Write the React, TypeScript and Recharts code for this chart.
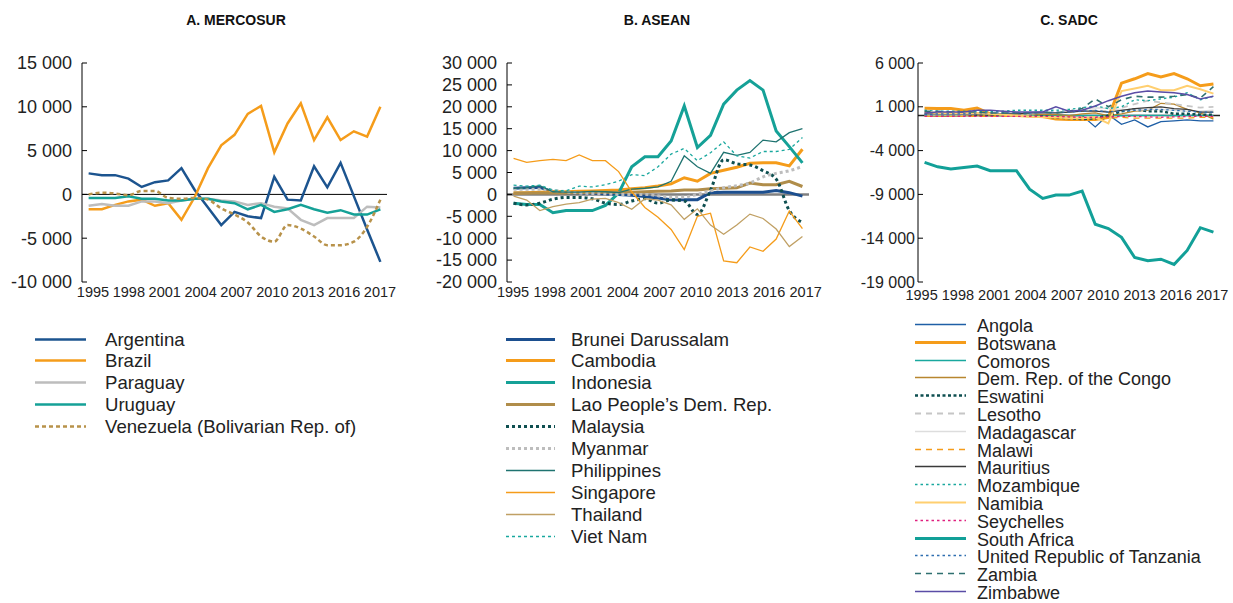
import React from 'react'
import { LineChart, Line, XAxis, YAxis, ReferenceLine } from 'recharts'

const YEARS = [1995, 1996, 1997, 1998, 1999, 2000, 2001, 2002, 2003, 2004, 2005, 2006, 2007, 2008, 2009, 2010, 2011, 2012, 2013, 2014, 2015, 2016, 2017]
const X_LABELS = ['1995', '1998', '2001', '2004', '2007', '2010', '2013', '2016', '2017']

// A. MERCOSUR
const ARG = [2400, 2200, 2200, 1800, 850, 1400, 1600, 3000, 500, -1500, -3500, -2000, -2500, -2700, 2000, -600, -700, 3200, 800, 3600, -200, -4000, -7700]
const BRA = [-1700, -1700, -1200, -800, -600, -1300, -1000, -2900, -300, 3000, 5600, 6800, 9200, 10100, 4800, 8100, 10400, 6200, 8800, 6200, 7200, 6600, 10000]
const PRY = [-1300, -1100, -1300, -1300, -800, -800, -1000, -700, -500, -500, -700, -800, -1200, -1000, -1400, -1600, -2900, -3500, -2700, -2700, -2700, -1400, -1500]
const URY = [-400, -400, -400, -200, -500, -500, -700, -700, -500, -500, -800, -1000, -1700, -1200, -2000, -1700, -1200, -1700, -2100, -1800, -2300, -2300, -1700]
const VEN = [0, 200, 100, -100, 400, 400, -400, -500, -400, -600, -1600, -2300, -3200, -4800, -5400, -3500, -3900, -4800, -5800, -5800, -5400, -3700, -600]

// B. ASEAN
const BRN = [1400, 1500, 1600, 600, 400, 300, 300, 100, 0, -200, -500, -800, -1200, -1200, -1200, 400, 500, 500, 500, 500, 900, 400, -400]
const KHM = [300, 400, 500, 600, 600, 700, 800, 900, 1000, 1300, 1500, 1900, 2400, 3800, 3000, 4800, 5500, 6200, 7100, 7200, 7200, 6500, 10300]
const IDN = [-2000, -2300, -2300, -4200, -3700, -3700, -3700, -2500, 300, 6300, 8600, 8600, 12200, 20200, 10700, 13500, 20600, 23800, 26000, 23800, 14500, 10900, 7200]
const LAO = [300, 300, 300, 300, 300, 400, 500, 500, 500, 500, 600, 700, 800, 1000, 1000, 1300, 1400, 1500, 2600, 2200, 2200, 3000, 1800]
const MYS = [-2000, -2400, -2000, -1100, -700, -700, -1000, -2000, -2300, -1500, -1000, -2000, -1300, -1500, -4600, 1000, 7900, 7000, 6700, 5400, 3500, -3700, -6400]
const MMR = [1200, 1200, 1200, 900, 600, 300, 200, 100, 0, 0, 0, -300, -700, -600, 0, 800, 1500, 2000, 2600, 4000, 4800, 5400, 6400]
const PHL = [1400, 1500, 2000, 600, 500, 500, 700, 600, 400, 1200, 1400, 1700, 3000, 8800, 6300, 4800, 9600, 8900, 9600, 12400, 12000, 14100, 15000]
const SGP = [8200, 7300, 7700, 8000, 7700, 9000, 7700, 7700, 5200, 600, -3000, -5200, -8000, -12600, -5000, -4300, -15200, -15600, -12000, -13000, -10200, -3800, -7800]
const THA = [-400, -1300, -3700, -2800, -2200, -1900, -1100, -900, -1900, -3400, -1000, -1300, -2400, -5700, -3300, -7000, -9100, -7000, -4500, -5500, -7900, -11900, -9600]
const VNM = [2100, 1900, 2100, 1000, 800, 1900, 1700, 2200, 3000, 4500, 4300, 6300, 9200, 10500, 7700, 9500, 12000, 8800, 8300, 9800, 9800, 10300, 13000]

// C. SADC
const AGO = [400, 300, 300, 300, 300, 300, 200, 200, 200, 100, 100, 0, 0, -1300, 100, -1000, -500, -1300, -700, -600, -500, -600, -600]
const BWA = [840, 800, 800, 600, 870, 200, 100, 0, -50, -100, -380, -450, -450, -450, -200, 3700, 4200, 4800, 4400, 4800, 4200, 3400, 3600]
const COM = [20, 10, 10, 20, 10, 0, 0, 10, 10, 20, 10, 10, 20, 30, 10, 0, 10, 20, 10, 0, 10, 20, 10]
const COD = [0, -100, -100, 0, 0, 0, 0, 100, 200, 100, 100, 0, 200, 300, 0, 200, 500, 600, 1400, 1300, 700, 300, -400]
const SWZ = [100, 100, 100, 100, 100, 100, 100, 100, 0, -100, -200, -300, -400, -300, 0, 500, 700, 500, 500, 200, 200, 100, 100]
const LSO = [300, 300, 300, 300, 300, 300, 300, 300, 300, 300, 300, 400, 500, 600, 500, 900, 1300, 1700, 1500, 1300, 1100, 900, 1000]
const MDG = [100, 100, 100, 100, 200, 200, 200, 200, 200, 300, 300, 400, 700, 900, 800, 700, 600, 700, 700, 600, 500, 500, 600]
const MWI = [-100, -100, -100, -100, -100, -100, -100, -100, -100, -100, -150, -150, -200, -200, -300, -200, -300, -300, -300, -300, -300, -200, -200]
const MUS = [200, 200, 200, 200, 200, 200, 200, 200, 300, 300, 300, 400, 500, 500, 400, 600, 800, 900, 1000, 800, 700, 400, 400]
const MOZ = [600, 500, 500, 500, 500, 500, 500, 600, 600, 600, 600, 700, 900, 1100, 800, 1000, 1800, 1700, 1900, 2100, 2600, 1800, 2200]
const NAM = [400, 300, 300, 300, 300, 200, 100, 0, -100, -200, -200, -300, -300, -200, -900, 2800, 3100, 3400, 2900, 2900, 3400, 3000, 2500]
const SYC = [-100, -100, -100, -100, -100, -100, -100, -100, -100, -100, -100, -150, -200, -200, -150, -100, -100, -150, -200, -150, -100, -100, -100]
const ZAF = [-5350, -5850, -6100, -5930, -5770, -6300, -6300, -6300, -8400, -9460, -9080, -9080, -8630, -12400, -12900, -13900, -16200, -16580, -16400, -17000, -15400, -12800, -13300]
const TZA = [100, 200, 200, 200, 300, 300, 300, 300, 300, 400, 400, 400, 500, 600, 400, 500, 600, 700, 700, 600, 500, 400, 400]
const ZMB = [500, 500, 400, 400, 400, 300, 300, 300, 300, 400, 300, 500, 800, 1900, 1000, 1800, 2200, 2100, 2100, 2200, 2400, 2000, 3300]
const ZWE = [300, 400, 400, 400, 600, 600, 500, 400, 400, 400, 1000, 500, 600, 1100, 1700, 2200, 2600, 2800, 2700, 2600, 2400, 1900, 2200]

const TICKS_A = [-10000, -5000, 0, 5000, 10000, 15000]
const TICKS_B = [-20000, -15000, -10000, -5000, 0, 5000, 10000, 15000, 20000, 25000, 30000]
const TICKS_C = [-19000, -14000, -9000, -4000, 1000, 6000]

const FONT = '"Liberation Sans", Arial, sans-serif'

type Series = {
  name: string
  values: number[]
  color: string
  width: number
  dash?: string
  smooth?: boolean
}

const seriesA: Series[] = [
  { name: 'Argentina', values: ARG, color: '#1c548f', width: 2.5 },
  { name: 'Brazil', values: BRA, color: '#f59c1a', width: 2.5 },
  { name: 'Paraguay', values: PRY, color: '#bdbdbd', width: 2.5 },
  { name: 'Uruguay', values: URY, color: '#15a197', width: 2.5 },
  { name: 'Venezuela (Bolivarian Rep. of)', values: VEN, color: '#b8924a', width: 2.5, dash: '4 3', smooth: true },
]

const seriesB: Series[] = [
  { name: 'Brunei Darussalam', values: BRN, color: '#1c4f8f', width: 3 },
  { name: 'Cambodia', values: KHM, color: '#f59c1a', width: 3 },
  { name: 'Indonesia', values: IDN, color: '#15a197', width: 3 },
  { name: 'Lao People\u2019s Dem. Rep.', values: LAO, color: '#b08d4a', width: 3 },
  { name: 'Malaysia', values: MYS, color: '#0e4f50', width: 3, dash: '3 3', smooth: true },
  { name: 'Myanmar', values: MMR, color: '#bdbdbd', width: 3, dash: '3 3', smooth: true },
  { name: 'Philippines', values: PHL, color: '#1f7370', width: 1.3 },
  { name: 'Singapore', values: SGP, color: '#f59c1a', width: 1.3 },
  { name: 'Thailand', values: THA, color: '#c0a064', width: 1.3 },
  { name: 'Viet Nam', values: VNM, color: '#19a89e', width: 1.3, dash: '3 3' },
]

const seriesC: Series[] = [
  { name: 'Angola', values: AGO, color: '#1f5fa6', width: 1.3 },
  { name: 'Botswana', values: BWA, color: '#f59c1a', width: 3 },
  { name: 'Comoros', values: COM, color: '#19a89e', width: 1.2 },
  { name: 'Dem. Rep. of the Congo', values: COD, color: '#b8862f', width: 1.3 },
  { name: 'Eswatini', values: SWZ, color: '#0e4f50', width: 2.5, dash: '3 2.5' },
  { name: 'Lesotho', values: LSO, color: '#c6c6c6', width: 1.8, dash: '6 5' },
  { name: 'Madagascar', values: MDG, color: '#dddddd', width: 1.5 },
  { name: 'Malawi', values: MWI, color: '#f59c1a', width: 1.3, dash: '6 5' },
  { name: 'Mauritius', values: MUS, color: '#3a3a3a', width: 1.3 },
  { name: 'Mozambique', values: MOZ, color: '#19a89e', width: 1.4, dash: '2.5 3' },
  { name: 'Namibia', values: NAM, color: '#ffcf70', width: 2 },
  { name: 'Seychelles', values: SYC, color: '#e0207f', width: 1.3, dash: '2.5 3' },
  { name: 'South Africa', values: ZAF, color: '#12a098', width: 3 },
  { name: 'United Republic of Tanzania', values: TZA, color: '#2e6eb0', width: 1.3, dash: '2.5 3' },
  { name: 'Zambia', values: ZMB, color: '#2f7070', width: 1.6, dash: '6 5' },
  { name: 'Zimbabwe', values: ZWE, color: '#5a4da6', width: 1.5 },
]

const fmt = (v: number) => {
  const s = Math.abs(v).toString()
  const g = s.replace(/\B(?=(\d{3})+(?!\d))/g, ' ')
  return (v < 0 ? '-' : '') + g
}

const buildRows = (series: Series[]) =>
  YEARS.map((year, i) => {
    const row: Record<string, number> = { year }
    series.forEach(s => { row[s.name] = s.values[i] })
    return row
  })

// x domain covers one band per year; labels are spread evenly along the axis
const X_MIN = YEARS[0] - 0.5
const X_MAX = YEARS[YEARS.length - 1] + 0.5
const labelTicks = (t0: number, t1: number) =>
  X_LABELS.map((_, k) => X_MIN + (X_MAX - X_MIN) * (t0 + (k * (t1 - t0)) / (X_LABELS.length - 1)))

function YTick(props: any) {
  const { x, y, payload, gap, fontSize } = props
  return (
    <g>
      <line x1={x + gap} x2={x + gap + 5} y1={y} y2={y} stroke="#000" strokeWidth={1} />
      <text x={x} y={y} dy="0.35em" textAnchor="end" fontSize={fontSize} fill="#222" fontFamily={FONT}>
        {fmt(payload.value)}
      </text>
    </g>
  )
}

type PanelProps = {
  title: string
  titleX: number
  left: number
  width: number
  yAxisWidth: number
  rightMargin: number
  series: Series[]
  ticks: number[]
  labelGap: number
  yFont: number
  labelSpan: [number, number]
  labelMargin: number
  zero: { color: string; width: number }
  legend: { lineX: number; lineW: number; textX: number; y0: number; step: number; font: number }
}

function Panel(p: PanelProps) {
  const rows = buildRows(p.series)
  const bounds = YEARS.slice(0, -1).map(y => y + 0.5)
  const rowH = Math.min(22, Math.floor(p.legend.step))
  return (
    <div style={{ position: 'absolute', left: p.left, top: 0, width: p.width, height: 603 }}>
      <div style={{ position: 'absolute', left: p.titleX - p.left - 100, top: 12, width: 200, textAlign: 'center', font: `bold 14px ${FONT}`, color: '#111' }}>
        {p.title}
      </div>
      <div style={{ position: 'absolute', left: 0, top: 0 }}>
        <LineChart width={p.width} height={312} data={rows} margin={{ top: 63, right: p.rightMargin, left: 0, bottom: 5 }}>
          <XAxis dataKey="year" type="number" domain={[X_MIN, X_MAX]} ticks={bounds} interval={0}
            mirror height={0} tickSize={4} tickFormatter={() => ''} axisLine={{ stroke: '#000' }} tickLine={{ stroke: '#000' }} />
          <XAxis xAxisId="lab" dataKey="year" type="number" domain={[X_MIN, X_MAX]} ticks={labelTicks(p.labelSpan[0], p.labelSpan[1])} interval={0}
            allowDataOverflow height={25} axisLine={false} tickLine={false} tickSize={0} tickMargin={p.labelMargin}
            tickFormatter={(_v: number, i: number) => X_LABELS[i]} tick={{ fontSize: 14.5, fill: '#222', fontFamily: FONT }} />
          <YAxis type="number" domain={[p.ticks[0], p.ticks[p.ticks.length - 1]]} ticks={p.ticks} interval={0}
            width={p.yAxisWidth} axisLine={{ stroke: '#000' }} tickLine={false} tickSize={0} tickMargin={p.labelGap}
            tick={(t: any) => <YTick {...t} gap={p.labelGap} fontSize={p.yFont} />} />
          <ReferenceLine y={0} stroke={p.zero.color} strokeWidth={p.zero.width} />
          {p.series.map(s => (
            <Line key={s.name} dataKey={s.name} type={s.smooth ? 'monotone' : 'linear'} stroke={s.color}
              strokeWidth={s.width} strokeDasharray={s.dash} dot={false} activeDot={false} isAnimationActive={false} />
          ))}
        </LineChart>
      </div>
      {p.series.map((s, i) => (
        <div key={s.name} style={{ position: 'absolute', left: 0, top: p.legend.y0 + i * p.legend.step - rowH / 2, height: rowH, width: p.width }}>
          <svg width={p.legend.lineW + 2} height={rowH} style={{ position: 'absolute', left: p.legend.lineX - p.left - 1, top: 0 }}>
            <line x1={1} x2={p.legend.lineW + 1} y1={rowH / 2} y2={rowH / 2} stroke={s.color} strokeWidth={Math.max(s.width, 1.5)} strokeDasharray={s.dash} />
          </svg>
          <span style={{ position: 'absolute', left: p.legend.textX - p.left, top: 0, height: rowH, lineHeight: `${rowH}px`, font: `${p.legend.font}px ${FONT}`, color: '#222', whiteSpace: 'nowrap' }}>
            {s.name}
          </span>
        </div>
      ))}
    </div>
  )
}

export default function App() {
  return (
    <div style={{ position: 'absolute', left: 0, top: 0, width: 1233, height: 603, background: '#fff', overflow: 'hidden' }}>
      <Panel title="A. MERCOSUR" titleX={236} left={0} width={400} yAxisWidth={82} rightMargin={13} series={seriesA} ticks={TICKS_A}
        labelGap={10} yFont={18} labelSpan={[0.036, 0.977]} labelMargin={5} zero={{ color: '#000', width: 1 }}
        legend={{ lineX: 35, lineW: 51, textX: 105, y0: 339, step: 21.8, font: 18.6 }} />
      <Panel title="B. ASEAN" titleX={657} left={420} width={420} yAxisWidth={87} rightMargin={31} series={seriesB} ticks={TICKS_B}
        labelGap={10} yFont={18} labelSpan={[0.02, 0.989]} labelMargin={5} zero={{ color: '#808080', width: 2.5 }}
        legend={{ lineX: 506, lineW: 49, textX: 571, y0: 339, step: 21.9, font: 18.6 }} />
      <Panel title="C. SADC" titleX={1069} left={840} width={393} yAxisWidth={78} rightMargin={13} series={seriesC} ticks={TICKS_C}
        labelGap={3} yFont={16} labelSpan={[0.012, 0.974]} labelMargin={8} zero={{ color: '#222', width: 1.5 }}
        legend={{ lineX: 915, lineW: 51, textX: 977, y0: 324.5, step: 17.8, font: 18 }} />
    </div>
  )
}
